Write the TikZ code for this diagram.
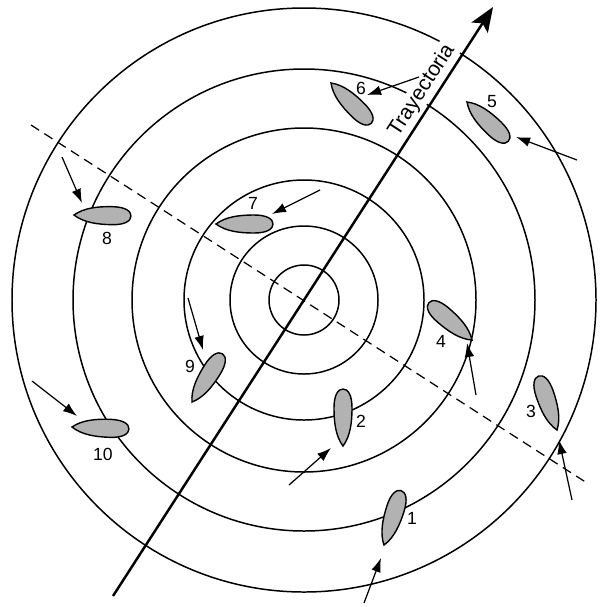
\documentclass[tikz,border=0pt]{standalone}
\usepackage{fontspec}
\setmainfont{Liberation Sans}
\usetikzlibrary{arrows.meta,calc}
\tikzset{
  ring/.style={line width=0.85pt},
  traj/.style={line width=1.4pt,-{Stealth[length=14pt,width=11pt,inset=3pt]}},
  cut/.style={line width=0.7pt,dash pattern=on 5.5pt off 3.5pt},
  wind/.style={line width=0.7pt,-{Latex[length=8pt,width=5.5pt]}},
  hull/.style={draw=black,line width=0.8pt,fill=gray!60},
  num/.style={font=\fontsize{10}{12}\selectfont,inner sep=0.8pt,fill=white},
  boat/.pic={\path[hull,pic actions] (0,0) .. controls (10,7.5) and (24,9) .. (38,9)
      .. controls (51,9) and (57,5) .. (57,0)
      .. controls (57,-5) and (51,-9) .. (38,-9)
      .. controls (24,-9) and (10,-7.5) .. (0,0) -- cycle;}
}
\begin{document}
\begin{tikzpicture}[x=0.02cm,y=-0.02cm]
\useasboundingbox (0,0) rectangle (608,606);
\coordinate (c) at (304,300);
% rings
\foreach \r in {35,74,120,172,231,292}{\draw[ring] (c) circle[radius=\r];}
% dashed line
\coordinate (dA) at (31,125);
\coordinate (dB) at (587,483);
\draw[cut] (dA) -- (dB);
% trajectory label and line
\coordinate (tS) at (113,596);
\coordinate (tE) at (493,7);
\path (tS) -- node[sloped,above=1.5pt,pos=0.845,fill=white,inner sep=1pt,font=\fontsize{12}{14}\selectfont] (tlabel) {Trayectoria} (tE);
\draw[traj] (tS) -- (tE);
% labels
\node[num] (n1) at (412,518) {1};
\node[num] (n2) at (361,421) {2};
\node[num] (n3) at (531,411) {3};
\node[num] (n4) at (441,341) {4};
\node[num] (n5) at (492,102) {5};
\node[num] (n6) at (361,88) {6};
\node[num] (n7) at (253,203) {7};
\node[num] (n8) at (107,238) {8};
\node[num] (n9) at (190,366) {9};
\node[num] (n10) at (103,454) {10};
% boats
\pic (b1) [rotate=72.5] at (384,545) {boat};
\pic (b2) [rotate=90] at (343,446) {boat};
\pic (b3) [rotate=108.8] at (557,430) {boat};
\pic (b4) [rotate=139.2,fill=gray!75] at (472,340) {boat};
\pic (b5) [rotate=-43.6,fill=gray!75] at (467,102) {boat};
\pic (b6) [rotate=-45,fill=gray!75] at (331,83) {boat};
\pic (b7) [rotate=0] at (216,224) {boat};
\pic (b8) [rotate=-1] at (74,215) {boat};
\pic (b9) [rotate=57.8] at (192,402) {boat};
\pic (b10) [rotate=-2] at (72,427) {boat};
% wind arrows
\coordinate (w1a) at (364,603); \coordinate (w1b) at (381,558);
\coordinate (w2a) at (289,485); \coordinate (w2b) at (331,448);
\coordinate (w3a) at (572,500); \coordinate (w3b) at (559,440);
\coordinate (w4a) at (476,395); \coordinate (w4b) at (467,343);
\coordinate (w5a) at (577,160); \coordinate (w5b) at (516,137);
\coordinate (w6a) at (419,77);  \coordinate (w6b) at (367,95);
\coordinate (w7a) at (320,190); \coordinate (w7b) at (272,214);
\coordinate (w8a) at (62,157);  \coordinate (w8b) at (82,203);
\coordinate (w9a) at (188,298); \coordinate (w9b) at (203,350);
\coordinate (w10a) at (32,381); \coordinate (w10b) at (77,416);
\foreach \i in {1,...,10}{\draw[wind] (w\i a) -- (w\i b);}
\end{tikzpicture}
\end{document}
